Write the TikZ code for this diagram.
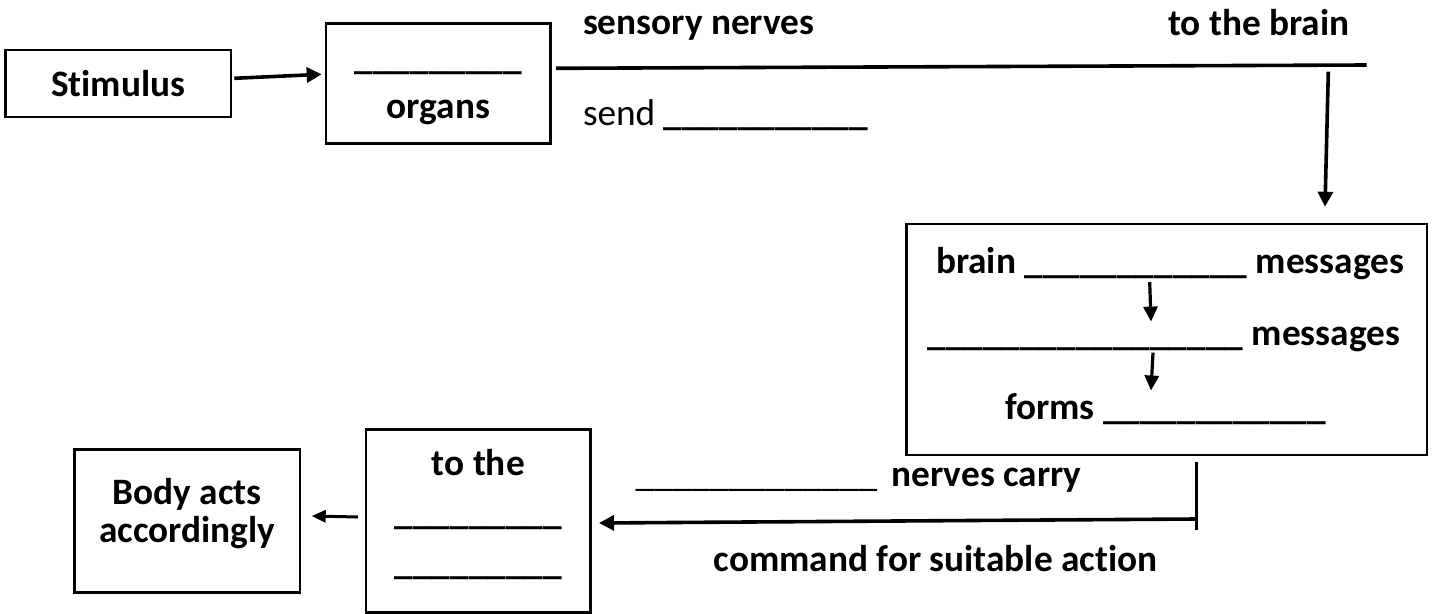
\documentclass[tikz,border=0pt]{standalone}
\usepackage{fontspec}
\setmainfont{Carlito}[Ligatures={NoCommon}]
\usetikzlibrary{arrows.meta,calc}
\newcommand{\ublank}[1]{\ifnum#1>0 \_\expandafter\ublank\expandafter{\number\numexpr#1-1\relax}\fi}
\begin{document}
\begin{tikzpicture}[x=1pt,y=-1pt,
  box/.style={draw,line width=2.6pt,inner sep=0pt,outer sep=0pt},
  lbl/.style={inner sep=0pt,outer sep=0pt,font=\fontsize{37.3}{38.7}\selectfont\bfseries},
  lblr/.style={inner sep=0pt,outer sep=0pt,font=\fontsize{37.3}{38.7}\selectfont},
  arr/.style={line width=3.6pt,-{Triangle[length=15pt,width=15pt]}},
  arrs/.style={line width=3pt,-{Triangle[length=14pt,width=12pt]}},
  arri/.style={line width=3.2pt,-{Triangle[length=15pt,width=14pt]}},
  bar/.style={line width=3.6pt}
]
\fill[white] (0,0) rectangle (1440,613);
\useasboundingbox (0,0) rectangle (1440,613);

% boxes
\node[box,minimum width=225.5pt,minimum height=67pt] (stim) at (118.25,83.5) {};
\node[box,minimum width=224.7pt,minimum height=120pt] (organs) at (438.35,83.3) {};
\node[box,minimum width=520.5pt,minimum height=231pt] (brain) at (1166.75,339.5) {};
\node[box,minimum width=224.7pt,minimum height=183pt] (tothe) at (478.35,520.8) {};
\node[box,minimum width=225.7pt,minimum height=143.4pt] (body) at (187.15,521) {};

% texts
\node[lbl,anchor=base] (tstim) at (118.25,96.5) {Stimulus};
\node[lbl,anchor=base] (torg1) at (438.4,69.7) {\ublank{9}};
\node[lbl,anchor=base] (torg2) at (438.4,118) {organs};
\node[lbl,anchor=base west] (tsens) at (583,34) {sensory nerves};
\node[lbl,anchor=base west] (tbrain) at (1168,35) {to the brain};
\node[lblr,anchor=base west] (tsend) at (583,125) {send \textbf{\ublank{11}}};
\node[lbl,anchor=base west] (l1) at (936,273.5) {brain \ublank{12} messages};
\node[lbl,anchor=base west] (l2) at (927.5,345.5) {\ublank{17} messages};
\node[lbl,anchor=base west] (l3) at (1005,419.5) {forms \ublank{12}};
\node[lblr,anchor=base west] (tcarry) at (635.7,486.5) {\ublank{13}\kern6pt{} \textbf{nerves carry}};
\node[lbl,anchor=base west] (tcmd) at (713.8,571) {command for suitable action};
\node[lbl,anchor=base] (tto1) at (478.35,475) {to the};
\node[lbl,anchor=base] (tto2) at (478.35,524.7) {\ublank{9}};
\node[lbl,anchor=base] (tto3) at (478.35,574.7) {\ublank{9}};
\node[lbl,anchor=base] (tbody1) at (187.15,504) {Body acts};
\node[lbl,anchor=base] (tbody2) at (187.15,542.7) {accordingly};

% connectors
\coordinate (topend) at (1366.7,65);
\coordinate (turn) at (1328.3,71.7);
\coordinate (tick) at (1196,519);

\draw[arr] ($(stim.east)+(3.3,-5.2)$) -- ($(organs.west)+(-4.3,-9)$);
\draw[bar] ($(organs.east)+(5.3,-15)$) -- (topend);
\draw[arr] (turn) -- ($(brain.north)+(158.25,-17.3)$);
\draw[arri] ($(l1.base west)+(213.7,8.5)$) -- ($(l2.base west)+(223.5,-23.9)$);
\draw[arri] ($(l2.base west)+(225.5,7.1)$) -- ($(l3.base west)+(146,-29)$);
\draw[line width=3pt] ($(brain.south)+(29.25,6.7)$) -- ++(0,68.3);
\draw[arr] (tick) -- ($(tothe.east)+(8.3,2.2)$);
\draw[arrs] ($(tothe.west)+(-8,-3.8)$) -- ($(body.east)+(11.7,-5)$);
\end{tikzpicture}
\end{document}
